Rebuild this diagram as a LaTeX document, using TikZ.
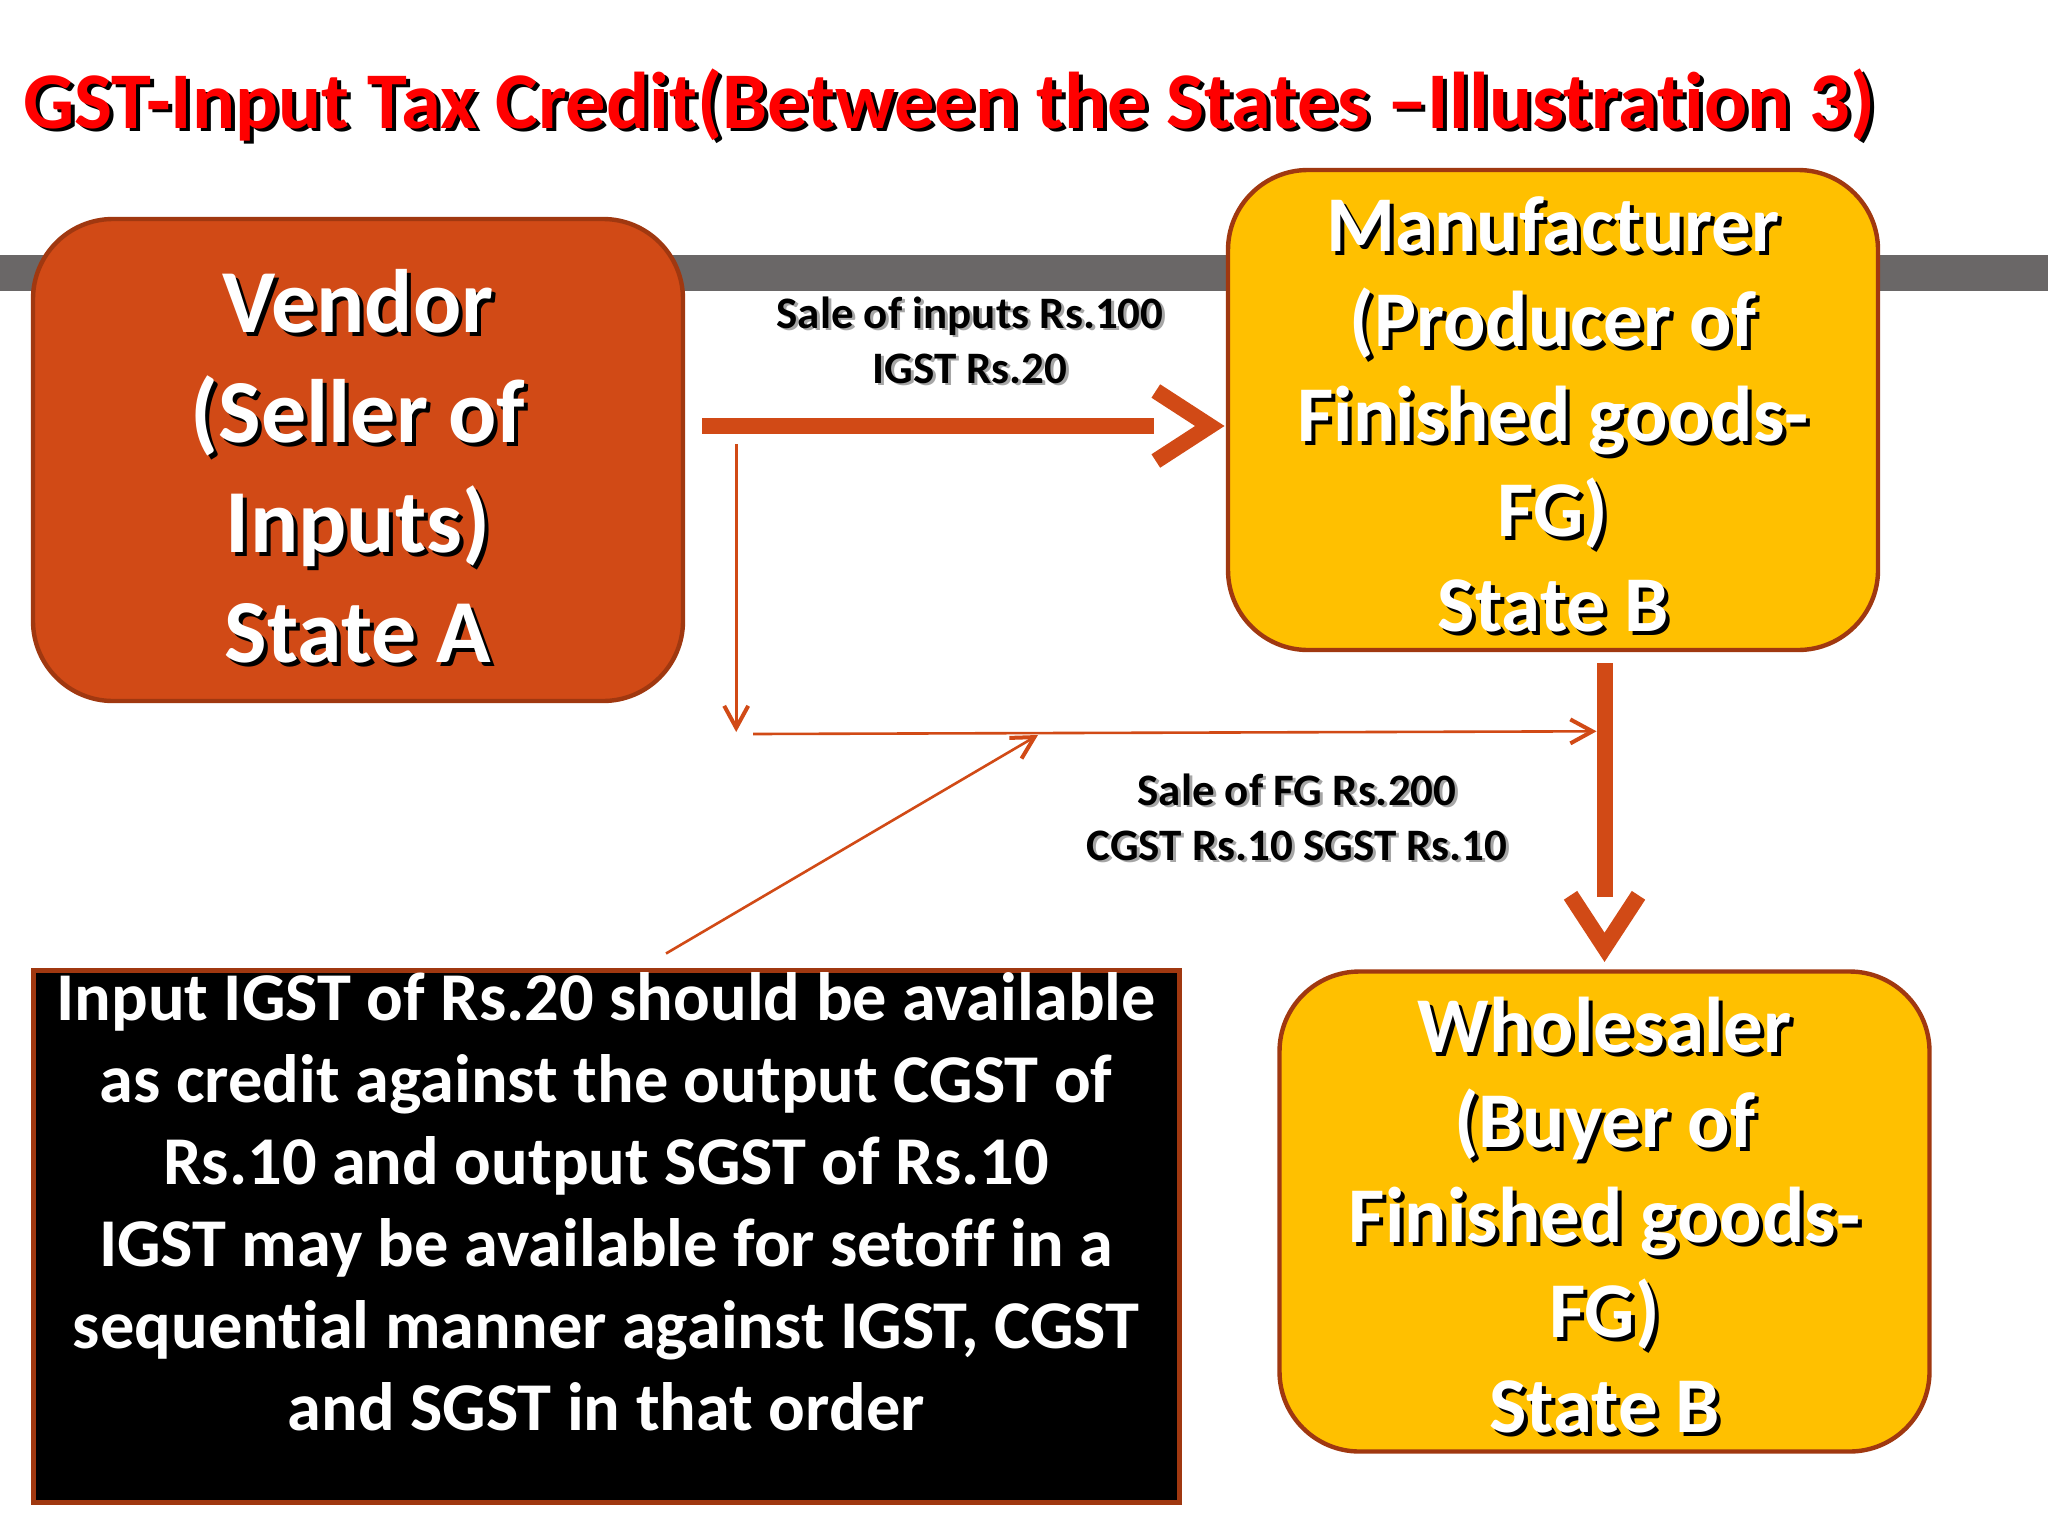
\documentclass[tikz,border=0pt]{standalone}
\usepackage{fontspec}
\setmainfont{Carlito}[Ligatures={NoCommon}]
\usetikzlibrary{arrows.meta,calc}
\definecolor{gorange}{RGB}{209,74,22}
\definecolor{gbrown}{RGB}{160,56,16}
\definecolor{gyellow}{RGB}{255,192,0}
\definecolor{ggray}{RGB}{106,103,103}
\definecolor{gred}{RGB}{255,0,0}
\tikzset{
  rbox/.style={draw=gbrown, line width=2.2pt, rounded corners=40pt, inner sep=0pt},
  vendorbox/.style={rbox, fill=gorange, minimum width=325pt, minimum height=241pt},
  yellowbox/.style={rbox, fill=gyellow, minimum width=325pt, minimum height=240pt},
  notebox/.style={draw=gbrown, line width=2.5pt, fill=black, minimum width=573pt, minimum height=266pt, inner sep=0pt},
  bigtxt/.style={align=center, inner sep=0pt, font=\fontsize{45}{55}\selectfont\bfseries},
  midtxt/.style={align=center, inner sep=0pt, font=\fontsize{39.5}{47.5}\selectfont\bfseries},
  notetxt/.style={align=center, inner sep=0pt, font=\fontsize{34.2}{41}\selectfont\bfseries, text=white},
  lbltxt/.style={align=center, inner sep=0pt, font=\fontsize{22.5}{27.5}\selectfont\bfseries},
  titletxt/.style={inner sep=0pt, anchor=base west, font=\fontsize{40.2}{49}\selectfont\bfseries},
  thickline/.style={draw=gorange, line width=8pt},
  chevron/.style={draw=gorange, line width=8pt, line join=miter},
  thinarrow/.style={draw=gorange, line width=1.3pt, -{Straight Barb[length=11pt,width=12pt,line width=2pt]}}
}
\begin{document}
\begin{tikzpicture}[x=0.5pt,y=-0.5pt]
\useasboundingbox (0,0) rectangle (2048,1536);
\fill[white] (0,0) rectangle (2048,1536);
% grey band
\fill[ggray] (0,255) rectangle (2048,291);
% title
\node[titletxt, text=black] at (27,132) {GST-Input Tax Credit(Between the States –Illustration 3)};
\node[titletxt, text=gred] (title) at (23,128) {GST-Input Tax Credit(Between the States –Illustration 3)};
% boxes
\node[vendorbox] (vendor) at (358,460) {};
\node[yellowbox] (manu) at (1553,410) {};
\node[yellowbox] (whole) at (1604.5,1211.5) {};
\node[notebox] (note) at (606,1236) {};
% box texts
\node[bigtxt, text=black] at ($(vendor.center)+(4,10)$) {Vendor\\(Seller of\\Inputs)\\State A};
\node[bigtxt, text=white] (vendortext) at ($(vendor.center)+(0,6)$) {Vendor\\(Seller of\\Inputs)\\State A};
\node[midtxt, text=black] at ($(manu.center)+(4,8)$) {Manufacturer\\(Producer of\\Finished goods-\\FG)\\State B};
\node[midtxt, text=white] (manutext) at ($(manu.center)+(0,4)$) {Manufacturer\\(Producer of\\Finished goods-\\FG)\\State B};
\node[midtxt, text=black] at ($(whole.center)+(4,8)$) {Wholesaler\\(Buyer of\\Finished goods-\\FG)\\State B};
\node[midtxt, text=white] (wholetext) at ($(whole.center)+(0,4)$) {Wholesaler\\(Buyer of\\Finished goods-\\FG)\\State B};
\node[notetxt] (notetext) at (606,1202) {Input IGST of Rs.20 should be available\\as credit against the output CGST of\\Rs.10 and output SGST of Rs.10\\IGST may be available for setoff in a\\sequential manner against IGST, CGST\\and SGST in that order};
% labels
\node[lbltxt, text=black!35] at (973,342) {Sale of inputs Rs.100\\IGST Rs.20};
\node[lbltxt, text=black] (lbl1) at (970,340) {Sale of inputs Rs.100\\IGST Rs.20};
\node[lbltxt, text=black!35] at (1300,819) {Sale of FG Rs.200\\CGST Rs.10 SGST Rs.10};
\node[lbltxt, text=black] (lbl2) at (1297,817) {Sale of FG Rs.200\\CGST Rs.10 SGST Rs.10};
% thick arrow vendor -> manufacturer
\draw[thickline] ($(vendor.east)+(17,-34)$) -- ($(manu.west)+(-72,16)$);
\draw[chevron] ($(manu.west)+(-70,-19)$) -- ($(manu.west)+(-16,16)$) -- ($(manu.west)+(-70,51)$);
% thick arrow manufacturer -> wholesaler
\draw[thickline] ($(whole.north)+(0,-306)$) -- ($(whole.north)+(0,-72)$);
\draw[chevron] ($(whole.north)+(-34,-74)$) -- ($(whole.north)+(0,-22)$) -- ($(whole.north)+(34,-74)$);
% thin arrows
\coordinate (turn) at ($(vendor.east)+(51,272)$);
\coordinate (meet) at (1038,735);
\draw[thinarrow] ($(vendor.east)+(51,-16)$) -- (turn);
\draw[thinarrow] ($(vendor.east)+(68,274)$) -- ($(whole.north)+(-8,-238)$);
\draw[thinarrow] ($(note.north)+(60,-14)$) -- (meet);
\end{tikzpicture}
\end{document}
